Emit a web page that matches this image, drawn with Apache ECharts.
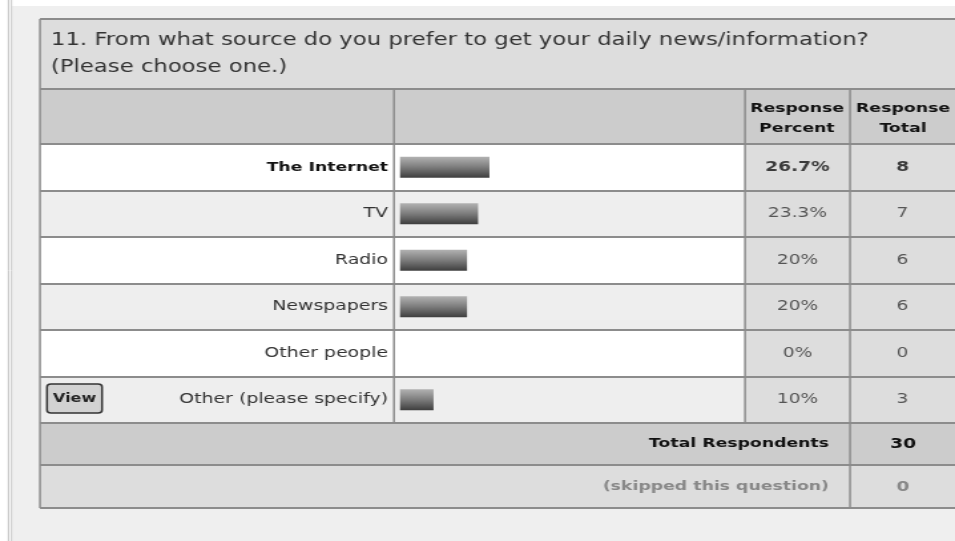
<!DOCTYPE html>
<html>
<head>
<meta charset="utf-8">
<script src="https://cdn.jsdelivr.net/npm/echarts@6/dist/echarts.min.js"></script>
<style>
html,body{margin:0;padding:0;background:#fff;overflow:hidden;}
/* the screenshot is stretched sideways: draw narrow, then widen the div */
#main{width:718px;height:541px;transform:scaleX(1.3301);transform-origin:0 0;}
</style>
</head>
<body>
<div id="main"></div>
<script>
var question='11. From what source do you prefer to get your daily news/information?';
var questionNote='(Please choose one.)';
var categories=['The Internet','TV','Radio','Newspapers','Other people','Other (please specify)'];
var percents=[26.7,23.3,20,20,0,10];
var totals=[8,7,6,6,0,3];
var totalRespondents=30;
var skipped=0;

var S=955/718;
function X(v){return v/S;}
var FONT='"DejaVu Sans", Verdana, sans-serif';
var LINE='#8c8c8c';

var chart=echarts.init(document.getElementById('main'));

function hLine(y,x1,x2){
	return {type:'line',z:20,shape:{x1:X(x1),y1:y,x2:X(x2),y2:y},style:{stroke:LINE,lineWidth:2}};
}
function vLine(x,y1,y2){
	return {type:'line',z:20,shape:{x1:X(x),y1:y1,x2:X(x),y2:y2},style:{stroke:LINE,lineWidth:1.5}};
}
function txt(x,y,s,opt){
	var st={text:s,x:X(x),y:y,fill:'#333',font:'13px '+FONT,textAlign:'left',textVerticalAlign:'middle'};
	for(var k in opt){st[k]=opt[k];}
	return {type:'text',z:30,style:st};
}
//数值列的文字（第一行加粗）
function cellData(arr){
	return arr.map(function(v,i){
		return {value:[0.5,i],label:{fontWeight:i===0?'bold':'normal',color:i===0?'#111':'#333'}};
	});
}

var option={
	animation:false,
	grid:[
		{left:X(40),width:X(705),top:144,height:279},   // label + bar columns (row stripes)
		{left:X(400),width:X(335),top:144,height:279},  // bars
		{left:X(745),width:X(105),top:144,height:279,show:true,backgroundColor:'#dddddd',borderWidth:0},
		{left:X(850),width:X(115),top:144,height:279,show:true,backgroundColor:'#dddddd',borderWidth:0}
	],
	xAxis:[
		{gridIndex:0,type:'value',show:false},
		{gridIndex:1,type:'value',min:0,max:100,show:false},
		{gridIndex:2,type:'value',min:0,max:1,show:false},
		{gridIndex:3,type:'value',min:0,max:1,show:false}
	],
	yAxis:[
		{gridIndex:0,type:'category',data:categories,inverse:true,
			axisLine:{show:false},axisTick:{show:false},axisLabel:{show:false},
			splitLine:{show:true,lineStyle:{color:LINE,width:2}},
			splitArea:{show:true,areaStyle:{color:['#ffffff','#eeeeee']}}},
		{gridIndex:1,type:'category',data:categories,inverse:true,
			axisLine:{show:false},axisTick:{show:false},splitLine:{show:false},
			axisLabel:{margin:X(12),color:'#333',fontSize:14.2,fontFamily:FONT,
				formatter:function(v,i){return i===0?'{b|'+v+'}':v;},
				rich:{b:{fontWeight:'bold',fontSize:13,color:'#111',fontFamily:FONT}}}},
		{gridIndex:2,type:'category',data:categories,inverse:true,
			axisLine:{show:false},axisTick:{show:false},axisLabel:{show:false},
			splitLine:{show:true,lineStyle:{color:LINE,width:2}}},
		{gridIndex:3,type:'category',data:categories,inverse:true,
			axisLine:{show:false},axisTick:{show:false},axisLabel:{show:false},
			splitLine:{show:true,lineStyle:{color:LINE,width:2}}}
	],
	series:[
		{
			type:'bar',xAxisIndex:1,yAxisIndex:1,data:percents,barWidth:21,silent:true,
			itemStyle:{
				color:new echarts.graphic.LinearGradient(0,0,0,1,[
					{offset:0,color:'#b2b2b2'},{offset:0.5,color:'#7c7c7c'},{offset:1,color:'#3e3e3e'}
				])
			}
		},
		{
			type:'scatter',xAxisIndex:2,yAxisIndex:2,symbolSize:1,silent:true,
			itemStyle:{color:'rgba(0,0,0,0)'},
			data:cellData(percents),
			label:{show:true,position:'inside',fontSize:14,fontFamily:FONT,
				formatter:function(p){return percents[p.dataIndex]+'%';}}
		},
		{
			type:'scatter',xAxisIndex:3,yAxisIndex:3,symbolSize:1,silent:true,
			itemStyle:{color:'rgba(0,0,0,0)'},
			data:cellData(totals),
			label:{show:true,position:'inside',fontSize:14,fontFamily:FONT,
				formatter:function(p){return String(totals[p.dataIndex]);}}
		}
	],
	graphic:{elements:[
		// page panel
		{type:'rect',z:-5,shape:{x:X(12),y:6,width:X(960),height:541},style:{fill:'#efefef'}},
		{type:'line',z:-4,shape:{x1:X(8.5),y1:0,x2:X(8.5),y2:541},style:{stroke:'#bdbdbd',lineWidth:1}},
		{type:'line',z:-4,shape:{x1:X(11.5),y1:0,x2:X(11.5),y2:541},style:{stroke:'#c8c8c8',lineWidth:1}},
		// title + header + footer backgrounds
		{type:'rect',z:1,shape:{x:X(40),y:19,width:X(930),height:70},style:{fill:'#dddddd'}},
		{type:'rect',z:1,shape:{x:X(40),y:89,width:X(930),height:55},style:{fill:'#cccccc'}},
		{type:'rect',z:1,shape:{x:X(40),y:423,width:X(930),height:42},style:{fill:'#cccccc'}},
		{type:'rect',z:1,shape:{x:X(40),y:465,width:X(930),height:43},style:{fill:'#dddddd'}},
		// borders
		hLine(19,40,960),hLine(89,40,960),hLine(144,40,960),hLine(423,40,960),hLine(465,40,960),hLine(508,40,960),
		vLine(40,19,508),vLine(394,89,423),vLine(745,89,423),vLine(850,89,508),
		// texts
		txt(51,41,question,{font:'17.1px '+FONT,fill:'#333'}),
		txt(51,68,questionNote,{font:'17.1px '+FONT,fill:'#333'}),
		txt(797,109,'Response',{font:'bold 13px '+FONT,fill:'#111',textAlign:'center'}),
		txt(797,129,'Percent',{font:'bold 13px '+FONT,fill:'#111',textAlign:'center'}),
		txt(903,109,'Response',{font:'bold 13px '+FONT,fill:'#111',textAlign:'center'}),
		txt(903,129,'Total',{font:'bold 13px '+FONT,fill:'#111',textAlign:'center'}),
		txt(829,444,'Total Respondents',{font:'bold 13px '+FONT,fill:'#111',textAlign:'right'}),
		txt(903,444,String(totalRespondents),{font:'bold 14px '+FONT,fill:'#111',textAlign:'center'}),
		txt(829,487,'(skipped this question)',{font:'bold 13px '+FONT,fill:'#888',textAlign:'right'}),
		txt(903,487,String(skipped),{font:'bold 14px '+FONT,fill:'#888',textAlign:'center'}),
		// View button
		{type:'rect',z:25,shape:{x:X(47),y:384,width:X(55),height:29,r:3},style:{fill:'#d2d2d2',stroke:'#333',lineWidth:1.5}},
		txt(74.5,398.5,'View',{font:'bold 12px '+FONT,fill:'#222',textAlign:'center'})
	]}
};
chart.setOption(option);
</script>
</body>
</html>
